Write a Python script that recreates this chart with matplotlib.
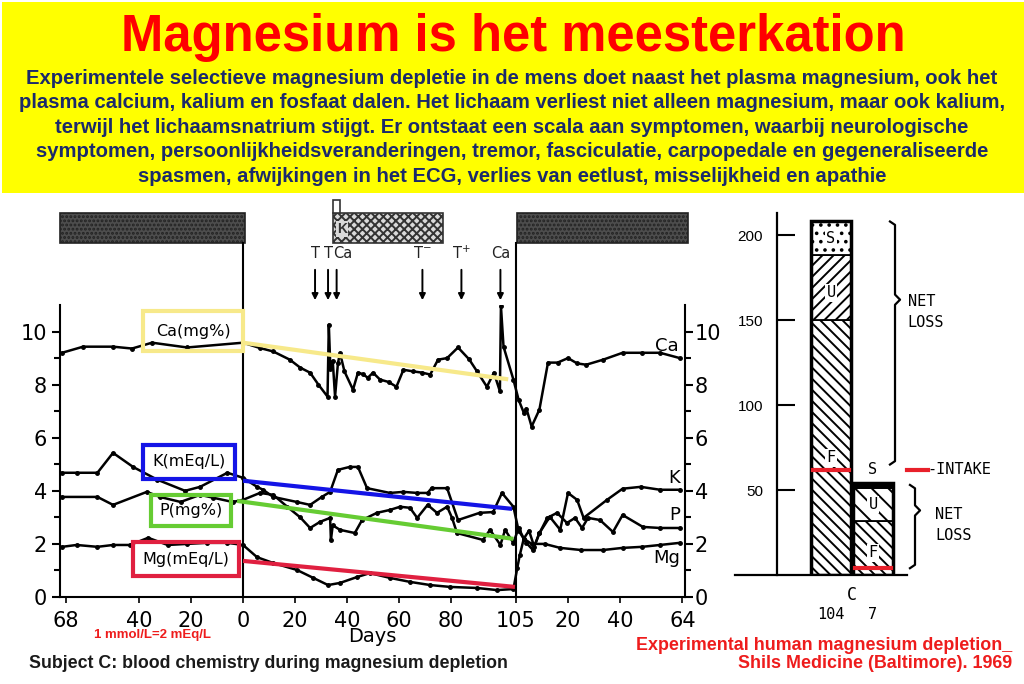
import numpy as np
import matplotlib.pyplot as plt
import matplotlib.transforms as mtransforms
from matplotlib.patches import Rectangle

plt.rcParams['font.family'] = ['Liberation Sans', 'DejaVu Sans']
plt.rcParams['hatch.linewidth'] = 1.4

# ---- data: blood chemistry, subject C (day 0 = start depletion, 105 = end) ----
ca_days = [-69.6, -61.5, -50, -42.7, -35, -21.5, 0, 6.5, 11.6, 18, 22, 25.8, 29, 32.5, 33, 33.6, 34.5,
           35.4, 36.5, 37.3, 39, 42.3, 44.2, 46, 48, 50, 52.7, 56, 59, 61.7, 65.4, 69, 72, 75, 78.5,
           82.7, 87, 90, 93.8, 96.5, 98.8, 99.2, 100.2, 104, 106, 108, 109, 111, 114, 117.3, 121,
           125, 128.5, 132, 138.5, 146, 153.5, 160.4, 168]
ca_vals = [9.2, 9.43, 9.43, 9.36, 9.58, 9.4, 9.58, 9.38, 9.25, 8.94, 8.64, 8.45, 8.0, 7.55, 10.26, 8.6, 8.9,
           7.55, 8.8, 9.2, 8.5, 7.81, 8.45, 8.4, 8.26, 8.45, 8.19, 8.1, 7.92, 8.56, 8.5, 8.45, 8.38, 8.94, 9.0,
           9.4, 8.95, 8.5, 7.92, 8.45, 7.75, 10.96, 9.43, 8.19, 7.43, 6.94, 7.1, 6.42, 7.06, 8.83, 8.83,
           9.0, 8.8, 8.75, 8.94, 9.2, 9.2, 9.2, 9.0]

k_days = [-69.6, -64, -56, -50, -42.3, -33, -22.3, -16.5, -6, 0, 5.4, 7.7, 11.6, 20.7, 25.8, 30.3, 33.5,
          36.5, 41, 44.2, 47.7, 56.5, 61.7, 67, 71, 72.5, 78.5, 82.7, 91, 96.2, 99.6, 104, 106, 109,
          111.5, 114, 118, 122, 125, 128.5, 131, 140, 146, 153, 160.4, 168]
k_vals = [4.68, 4.68, 4.68, 5.43, 4.9, 4.42, 4.0, 4.15, 4.68, 4.49, 4.15, 4.04, 3.77, 3.58, 3.47, 3.77, 3.96,
          4.79, 4.9, 4.9, 4.1, 3.92, 3.96, 3.92, 3.92, 4.1, 4.1, 2.9, 3.17, 3.2, 3.92, 3.4, 2.5, 2.04,
          1.77, 2.41, 3.02, 2.53, 3.92, 3.66, 2.98, 3.66, 4.08, 4.15, 4.04, 4.04]

p_days = [-69.6, -56, -50, -37, -32, -24, -16.5, -11.5, -4, 0, 6.5, 11.6, 17, 22, 25.8, 29.6, 33.5, 33.8,
          34.5, 37.3, 43, 45.8, 51.5, 56.5, 60.4, 64.2, 67, 71, 74.6, 78.5, 80.4, 82.3, 92.3, 95, 99,
          100.8, 104, 106, 108, 110, 112, 114, 117, 120.8, 124.6, 127.7, 130.4, 132.7, 137.3, 142.3,
          146, 153.8, 160.4, 168]
p_vals = [3.77, 3.77, 3.47, 3.96, 3.77, 3.58, 3.85, 3.74, 3.58, 3.66, 3.92, 3.85, 3.4, 3.0, 2.6, 2.83, 2.98, 2.15,
          2.7, 2.53, 2.41, 2.9, 3.17, 3.28, 3.4, 3.36, 2.98, 3.47, 3.17, 3.4, 2.98, 2.41, 2.15, 2.53, 1.96,
          2.53, 2.04, 2.6, 2.2, 2.5, 1.9, 2.4, 2.98, 3.17, 2.79, 2.98, 2.6, 2.98, 2.9, 2.45,
          3.09, 2.64, 2.6, 2.6]

mg_days = [-69.6, -64, -56, -50, -43.5, -36.5, -29, -21.5, -14, -6, 0, 5.4, 11.6, 20.7, 27, 32.7, 37.3,
           43.8, 48.8, 56.5, 64.2, 72, 79.6, 90, 97.7, 104, 105.5, 106.5, 108, 111, 116, 122, 130,
           138.5, 146, 153.5, 160.4, 168]
mg_vals = [1.89, 1.96, 1.89, 1.96, 1.96, 2.23, 1.96, 2.0, 2.04, 2.04, 1.96, 1.5, 1.28, 1.02, 0.72, 0.45, 0.53,
           0.75, 0.9, 0.72, 0.57, 0.45, 0.38, 0.34, 0.26, 0.3, 1.1, 1.6, 2.2, 2.0, 2.0, 1.85, 1.77,
           1.77, 1.85, 1.89, 1.96, 2.04]

# straight trend lines drawn over the depletion period
trend_days = {'Ca': [0, 102], 'K': [0, 103.5], 'P': [-2.3, 104], 'Mg': [0, 104.6]}
trend_vals = {'Ca': [9.58, 8.2], 'K': [4.38, 3.32], 'P': [3.62, 2.19], 'Mg': [1.36, 0.38]}

x_tick_pos = [-68, -40, -20, 0, 20, 40, 60, 80, 105, 125, 145, 169]
x_tick_lab = ['68', '40', '20', '0', '20', '40', '60', '80', '105', '20', '40', '64']

# phase bars on top (pre, K supplement, post)
phase_start = [-70.4, 34.6, 105.4]
phase_end = [0.8, 77, 171]

# arrows (T = tetany, Ca = calcium given)
arrow_days = [27.7, 32.7, 36, 69, 84, 99]
arrow_labels = ['T', 'T', 'Ca', 'T$^{-}$', 'T$^{+}$', 'Ca']

# ---- data: Mg balance bars (mEq) ----
bar_x = [0, 1]
feces = [150, 32]
urine = [38, 19]
sweat = [20, 3]
intake = [62, 4]

W, H = 1024, 684
def box(x0, y0, x1, y1):
    # pixel box (top-left origin) -> figure fraction
    return [x0 / W, 1 - y1 / H, (x1 - x0) / W, (y1 - y0) / H]

fig = plt.figure(figsize=(10.24, 6.84), dpi=100)

# ---- header ----
fig.patches.append(Rectangle((2 / W, 1 - 193 / H), 1, 191 / H, transform=fig.transFigure,
                             facecolor='#FFFF00', edgecolor='none', zorder=0))
fig.text(513 / W, 1 - 37 / H, 'Magnesium is het meesterkation', ha='center', va='center',
         color='#FF0000', fontsize=36.5, weight='bold')
para = ['Experimentele selectieve magnesium depletie in de mens doet naast het plasma magnesium, ook het',
        'plasma calcium, kalium en fosfaat dalen. Het lichaam verliest niet alleen magnesium, maar ook kalium,',
        'terwijl het lichaamsnatrium stijgt. Er ontstaat een scala aan symptomen, waarbij neurologische',
        'symptomen, persoonlijkheidsveranderingen, tremor, fasciculatie, carpopedale en gegeneraliseerde',
        'spasmen, afwijkingen in het ECG, verlies van eetlust, misselijkheid en apathie']
for i, line in enumerate(para):
    fig.text(512 / W, 1 - (78 + 24.6 * i) / H, line, ha='center', va='center',
             color='#1B2A6B', fontsize=14.6, weight='bold')

# ---- left chart ----
ax = fig.add_axes(box(60, 305, 685, 597))
ax.set_xlim(-70.4, 170)
ax.set_ylim(0, 11)
lw = 1.8
for d, v in [(ca_days, ca_vals), (k_days, k_vals), (p_days, p_vals), (mg_days, mg_vals)]:
    ax.plot(d, v, color='black', lw=lw, marker='o', ms=2.5, zorder=3)

trend_col = {'Ca': '#F7E98A', 'K': '#1414E6', 'P': '#66CC33', 'Mg': '#E02040'}
for key in ['Ca', 'K', 'P', 'Mg']:
    ax.plot(trend_days[key], trend_vals[key], color=trend_col[key], lw=3, zorder=4,
            solid_capstyle='butt')

# label boxes
box_pos = {'Ca': (-19.2, 10.02, 'Ca(mg%)', 0.8), 'K': (-20.8, 5.09, 'K(mEq/L)', 0.6),
           'P': (-20, 3.25, 'P(mg%)', 0.5), 'Mg': (-22.1, 1.42, 'Mg(mEq/L)', 0.6)}
for key, (bx, by, txt, pd) in box_pos.items():
    ax.text(bx, by, txt, ha='center', va='center', fontsize=11.5, family='DejaVu Sans', zorder=5,
            bbox=dict(boxstyle='square,pad=%.2f' % pd, fc='none', ec=trend_col[key], lw=3))

# labels at the right end
for txt, d, v in [('Ca', 163, 9.47), ('K', 166, 4.5), ('P', 166, 3.1), ('Mg', 163, 1.47)]:
    ax.text(d, v, txt, ha='center', va='center', fontsize=13, family='DejaVu Sans')

ax.set_xticks(x_tick_pos)
ax.set_xticklabels(x_tick_lab, fontsize=15, family='DejaVu Sans')
ax.set_yticks([0, 2, 4, 6, 8, 10])
ax.set_yticks([1, 3, 5, 7, 9], minor=True)
ax.tick_params(axis='y', labelsize=15, length=6, width=1.5, direction='out')
ax.tick_params(axis='y', which='minor', length=4, width=1.5)
ax.tick_params(axis='x', length=4, width=1.2, pad=6)
for lab in ax.get_yticklabels():
    lab.set_family('DejaVu Sans')
ax.spines['top'].set_visible(False)
ax.spines['right'].set_visible(False)
for s in ['left', 'bottom']:
    ax.spines[s].set_linewidth(1.5)

axr = ax.twinx()
axr.set_ylim(0, 11)
axr.set_yticks([0, 2, 4, 6, 8, 10])
axr.set_yticks([1, 3, 5, 7, 9], minor=True)
axr.set_yticklabels(['0', '2', '4', '6', '8', '10'], fontsize=15, family='DejaVu Sans')
axr.tick_params(axis='y', length=6, width=1.5, pad=1)
axr.tick_params(axis='y', which='minor', length=4, width=1.5)
for s in ['top', 'left', 'bottom']:
    axr.spines[s].set_visible(False)
axr.spines['right'].set_linewidth(1.5)

# phase lines and bars above the plot
trans = mtransforms.blended_transform_factory(ax.transData, ax.transAxes)
for d in [0, 105]:
    ax.plot([d, d], [0, 1.212], color='black', lw=1.5, transform=trans, clip_on=False)
for i, (s, e) in enumerate(zip(phase_start, phase_end)):
    if i == 1:
        ax.add_patch(Rectangle((s, 1.212), e - s, 0.103, transform=trans, clip_on=False,
                               fc='#d9d9d9', ec='#333333', lw=1.2, hatch='xxxx'))
        ax.add_patch(Rectangle((s, 1.315), 2.7, 0.045, transform=trans, clip_on=False,
                               fc='white', ec='#333333', lw=1.2))
        ax.text(s + 1.5, 1.26, 'K', transform=trans, fontsize=10, weight='bold',
                va='center', ha='left', color='#333333',
                bbox=dict(fc='#d9d9d9', ec='none', pad=0.5))
    else:
        ax.add_patch(Rectangle((s, 1.212), e - s, 0.103, transform=trans, clip_on=False,
                               fc='#4d4d4d', ec='#222222', lw=1.2, hatch='....'))

for d, lab in zip(arrow_days, arrow_labels):
    ax.annotate('', xy=(d, 1.007), xytext=(d, 1.13), xycoords=trans, textcoords=trans,
                arrowprops=dict(arrowstyle='-|>', color='black', lw=1.4, mutation_scale=9))
    if lab == 'Ca' and d < 50:
        ax.text(d - 1.2, 1.178, lab, transform=trans, ha='left', va='center', fontsize=10.5,
                family='DejaVu Sans', color='#222222')
    else:
        ax.text(d, 1.178, lab, transform=trans, ha='center', va='center', fontsize=10.5,
                family='DejaVu Sans', color='#222222')

fig.text(372 / W, 1 - 637 / H, 'Days', ha='center', va='center', fontsize=14, family='DejaVu Sans')
fig.text(153 / W, 1 - 635 / H, '1 mmol/L=2 mEq/L', ha='center', va='center', fontsize=9.5,
         color='#EE1C1C', weight='bold')
fig.text(268 / W, 1 - 664 / H, 'Subject C: blood chemistry during magnesium depletion', ha='center',
         va='center', fontsize=12.8, color='#1a1a1a', weight='bold')

# ---- right chart: magnesium balance ----
ax2 = fig.add_axes(box(735, 213, 1010, 575))
ax2.set_xlim(-2.286, 4.262)
ax2.set_ylim(0, 213)
ax2.patch.set_alpha(0)
bw = 0.95
bottom_u = np.array(feces)
bottom_s = bottom_u + np.array(urine)
total = bottom_s + np.array(sweat)
ax2.bar(bar_x, feces, width=bw, fc='white', ec='black', lw=1.3, hatch='\\\\\\')
ax2.bar(bar_x[0], urine[0], bottom=bottom_u[0], width=bw, fc='white', ec='black', lw=1.3, hatch='///')
ax2.bar(bar_x[1], urine[1], bottom=bottom_u[1], width=bw, fc='white', ec='black', lw=1.3, hatch='\\\\')
ax2.bar(bar_x[0], sweat[0], bottom=bottom_s[0], width=bw, fc='white', ec='black', lw=1.3, hatch='..')
ax2.bar(bar_x[1], sweat[1], bottom=bottom_s[1], width=bw, fc='black', ec='black', lw=1.3)
ax2.bar(bar_x, total, width=bw, fill=False, ec='black', lw=2.5)
for x, v in zip(bar_x, intake):
    ax2.plot([x - bw / 2 + 0.05, x + bw / 2 - 0.05], [v, v], color='#E8202A', lw=3)

lab_kw = dict(ha='center', va='center', fontsize=11, family='DejaVu Sans Mono',
              bbox=dict(fc='white', ec='none', pad=1))
ax2.text(0, (bottom_s[0] + total[0]) / 2, 'S', **lab_kw)
ax2.text(0, (bottom_u[0] + bottom_s[0]) / 2 - 3, 'U', **lab_kw)
ax2.text(0, intake[0] + 7, 'F', **lab_kw)
ax2.text(1, (bottom_u[1] + bottom_s[1]) / 2, 'U', **lab_kw)
ax2.text(1, intake[1] + 9, 'F', **lab_kw)
ax2.text(1, total[1] + 8, 'S', ha='center', va='center', fontsize=11, family='DejaVu Sans Mono')

def brace(x, lo, hi, tip, w=0.12):
    ax2.plot([x - w, x, x, x + w, x, x, x - w],
             [hi, hi - 2, tip + 3, tip, tip - 3, lo + 2, lo], color='black', lw=1.6)

brace(1.524, intake[0] + 3, total[0], 162)
brace(2.0, intake[1], total[1] - 1, 38)
ax2.text(1.83, 155, 'NET\nLOSS', ha='left', va='center', fontsize=11, family='DejaVu Sans Mono',
         linespacing=1.5)
ax2.text(2.476, 29.5, 'NET\nLOSS', ha='left', va='center', fontsize=11, family='DejaVu Sans Mono',
         linespacing=1.5)
ax2.plot([1.81, 2.31], [intake[0], intake[0]], color='#E8202A', lw=3, clip_on=False)
ax2.text(2.3, intake[0], '-INTAKE', ha='left', va='center', fontsize=11, family='DejaVu Sans Mono')

ax2.spines['top'].set_visible(False)
ax2.spines['right'].set_visible(False)
ax2.spines['left'].set_position(('data', -1.286))
ax2.spines['left'].set_linewidth(1.6)
ax2.spines['bottom'].set_bounds(-2.286, 1.81)
ax2.spines['bottom'].set_linewidth(1.6)
ax2.set_yticks([50, 100, 150, 200])
ax2.tick_params(axis='y', direction='in', length=13, width=1.5, labelsize=11, pad=10)
ax2.set_xticks(bar_x)
ax2.set_xticklabels(['104', '7'], fontsize=11, family='DejaVu Sans Mono')
ax2.tick_params(axis='x', length=0, pad=23)
trans2 = mtransforms.blended_transform_factory(ax2.transData, ax2.transAxes)
ax2.text(0.5, -0.055, 'C', transform=trans2, ha='center', va='center', fontsize=12,
         family='DejaVu Sans Mono')

fig.text(1012 / W, 1 - 645 / H, 'Experimental human magnesium depletion_', ha='right', va='center',
         fontsize=12.9, color='#EE1C1C', weight='bold')
fig.text(1012 / W, 1 - 664 / H, 'Shils Medicine (Baltimore). 1969', ha='right', va='center',
         fontsize=12.9, color='#EE1C1C', weight='bold')

fig.savefig('out.png', dpi=100)
